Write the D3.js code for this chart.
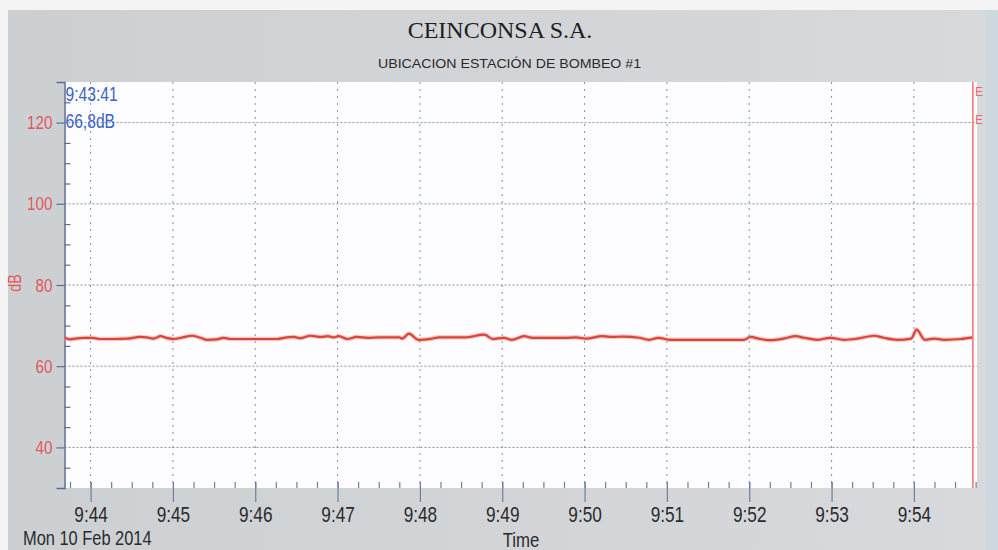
<!DOCTYPE html>
<html><head><meta charset="utf-8">
<script src="https://cdn.jsdelivr.net/npm/d3@7"></script>
<style>
html,body{margin:0;padding:0;background:#f3f3f3;}
svg{display:block;}
.narrow{font-family:"Liberation Sans Narrow","Arial Narrow","Liberation Sans",sans-serif;}
</style></head>
<body>
<svg id="chart" width="998" height="550"></svg>
<script>
// ---- data ----
const title = "CEINCONSA S.A.";
const subtitle = "UBICACION  ESTACIÓN DE BOMBEO #1";
const startTime = "2014-02-10T09:43:41";
const endTime = "2014-02-10T09:54:46";
const cursorTime = "2014-02-10T09:54:43";
const elapsedSec = [0,4,8,14,20,26,36,46,55,60,65,70,75,80,85,93,99,104,111,116,121,133,148,155,162,167,172,179,187,192,196,200,206,213,221,229,244,246,251,258,268,273,292,306,312,320,326,335,341,365,373,380,392,399,407,419,426,433,441,456,478,495,500,507,515,524,533,539,549,558,568,578,590,597,607,617,621,627,634,641,653,662];
const levelDb = [67.1,66.6,66.8,67.0,67.0,66.7,66.7,66.8,67.2,67.1,66.8,67.4,66.9,66.7,67.0,67.5,67.0,66.5,66.6,67.0,66.7,66.7,66.7,66.7,67.1,67.2,66.9,67.5,67.2,67.4,67.1,67.4,66.7,67.2,67.0,67.1,67.1,66.8,68.0,66.5,66.8,67.1,67.1,67.8,66.7,67.0,66.5,67.4,67.0,67.0,67.1,66.8,67.4,67.2,67.3,67.0,66.5,67.0,66.5,66.5,66.5,66.5,67.2,66.7,66.4,66.8,67.4,67.0,66.5,67.0,66.5,66.8,67.5,67.0,66.5,66.8,69.0,66.5,66.8,66.5,66.7,67.1];
const yMajorTicks = [40,60,80,100,120];
const yDomain = [30,130];
const cursorLabel1 = "9:43:41";
const cursorLabel2 = "66,8dB";
const dateLabel = "Mon 10 Feb 2014";
const xTitle = "Time";
const yTitle = "dB";

// ---- layout ----
const svg = d3.select("#chart");
const P = {left:64.5, right:977, top:82, bottom:488};
const t0 = new Date(startTime);
const data = elapsedSec.map((s,i)=>({t:new Date(t0.getTime()+s*1000), v:levelDb[i]}));

const x = d3.scaleTime().domain([new Date(startTime), new Date(endTime)]).range([P.left,P.right]);
const y = d3.scaleLinear().domain(yDomain).range([P.bottom,P.top]);

// background panel
const defs = svg.append("defs");
const g1 = defs.append("linearGradient").attr("id","bg").attr("x1","0").attr("x2","1").attr("y1","0").attr("y2","0");
g1.append("stop").attr("offset","0").attr("stop-color","#cdd0d3");
g1.append("stop").attr("offset","1").attr("stop-color","#d7d9dc");
svg.append("rect").attr("x",0).attr("y",0).attr("width",998).attr("height",550).attr("fill","#f4f4f4");
svg.append("rect").attr("x",8).attr("y",10).attr("width",990).attr("height",540).attr("fill","url(#bg)");
svg.append("rect").attr("x",986).attr("y",10).attr("width",12).attr("height",540).attr("fill","#cdd8df");

// plot area
svg.append("rect").attr("x",P.left).attr("y",P.top).attr("width",P.right-P.left).attr("height",P.bottom-P.top).attr("fill","#fdfdff");

// grid
const gridColor = "#7486a8";
svg.append("g").selectAll("line").data(yMajorTicks).join("line")
  .attr("x1",P.left).attr("x2",P.right).attr("y1",d=>y(d)).attr("y2",d=>y(d))
  .attr("stroke",gridColor).attr("stroke-width",1).attr("stroke-dasharray","2,2").attr("opacity",0.9);
const minuteTicks = x.ticks(d3.timeMinute.every(1));
svg.append("g").selectAll("line").data(minuteTicks).join("line")
  .attr("x1",d=>x(d)).attr("x2",d=>x(d)).attr("y1",P.top).attr("y2",P.bottom)
  .attr("stroke",gridColor).attr("stroke-width",1).attr("stroke-dasharray","2,5").attr("opacity",0.9);

// x axis minor ticks (inward)
const xMinor = d3.axisBottom(x).ticks(d3.timeSecond.every(15)).tickSize(-6).tickFormat("");
const gxm = svg.append("g").attr("transform",`translate(0,${P.bottom})`).call(xMinor);
gxm.select(".domain").remove();
gxm.selectAll("line").attr("stroke","#6f7f98").attr("stroke-width",1.2);

// x axis major
const xMajor = d3.axisBottom(x).ticks(d3.timeMinute.every(1)).tickSize(14).tickPadding(20).tickFormat(d3.timeFormat("%-H:%M"));
const gx = svg.append("g").attr("transform",`translate(0,${P.bottom})`).call(xMajor);
gx.select(".domain").remove();
gx.selectAll("line").attr("y1",-6).attr("stroke","#6f7f98").attr("stroke-width",1.2);
gx.selectAll("text").attr("class","narrow").attr("font-size",21.5).attr("fill","#2b2b2b").attr("dy","0").attr("y",34);

// y axis
const yMinorTicks = d3.range(yDomain[0]+5, yDomain[1], 5).filter(v=>!yMajorTicks.includes(v));
const gym = svg.append("g").attr("transform",`translate(${P.left},0)`).call(d3.axisRight(y).tickValues(yMinorTicks).tickSize(6).tickFormat(""));
gym.select(".domain").remove();
gym.selectAll("line").attr("stroke","#5a6f92").attr("stroke-width",1.2);
const gy = svg.append("g").attr("transform",`translate(${P.left},0)`).call(d3.axisLeft(y).tickValues(yMajorTicks).tickSize(8).tickPadding(4));
gy.select(".domain").attr("stroke","#5a6f92").attr("stroke-width",1.5);
gy.selectAll("line").attr("stroke","#5a6f92").attr("stroke-width",1.2);
gy.selectAll("text").attr("class","narrow").attr("font-size",19).attr("fill","#e0585a");

// data line
const line = d3.line().x(d=>x(d.t)).y(d=>y(d.v)).curve(d3.curveMonotoneX);
svg.append("path").datum(data).attr("d",line).attr("fill","none").attr("stroke","#f2a49a").attr("stroke-width",4.5).attr("opacity",0.6);
svg.append("path").datum(data).attr("d",line).attr("fill","none").attr("stroke","#d9453a").attr("stroke-width",2.2);

// cursor
const cx = x(new Date(cursorTime));
svg.append("line").attr("x1",cx).attr("x2",cx).attr("y1",P.top).attr("y2",P.bottom).attr("stroke","#ee7a78").attr("stroke-width",1.6);
svg.append("text").attr("x",cx+2).attr("y",96).attr("font-family","Liberation Sans, sans-serif").attr("font-size",12).attr("fill","#e86a6a").text("E");
svg.append("text").attr("x",cx+2).attr("y",124).attr("font-family","Liberation Sans, sans-serif").attr("font-size",12).attr("fill","#e86a6a").text("E");

// cursor readout
svg.append("text").attr("class","narrow").attr("x",P.left+1).attr("y",101).attr("font-size",19.5).attr("fill","#3c62c4").text(cursorLabel1);
svg.append("text").attr("class","narrow").attr("x",P.left+1).attr("y",128).attr("font-size",19.5).attr("fill","#3c62c4").text(cursorLabel2);

// titles
svg.append("text").attr("x",500).attr("y",38).attr("text-anchor","middle").attr("font-family","Liberation Serif, Times New Roman, serif").attr("font-size",24).attr("fill","#1e1e1e").text(title);
svg.append("text").attr("class","narrow").attr("x",378).attr("y",68).attr("font-size",12.5).attr("fill","#2a2a2a").text(subtitle);
svg.append("text").attr("class","narrow").attr("x",521).attr("y",547).attr("text-anchor","middle").attr("font-size",21).attr("fill","#2b2b2b").text(xTitle);
svg.append("text").attr("class","narrow").attr("x",23).attr("y",545).attr("font-size",20.5).attr("fill","#2b2b2b").text(dateLabel);
svg.append("text").attr("class","narrow").attr("transform","translate(21,283) rotate(-90)").attr("text-anchor","middle").attr("font-size",18).attr("fill","#e0585a").text(yTitle);

// emulate a narrow face: compress each narrow label horizontally
svg.selectAll("text.narrow").each(function(){
  const w = this.getComputedTextLength();
  d3.select(this).attr("textLength", (w*0.8).toFixed(1)).attr("lengthAdjust","spacingAndGlyphs");
});
// subtitle width fixed to the reference span
svg.selectAll("text.narrow").filter(function(){return this.textContent===subtitle;}).attr("textLength",263);
</script>
</body></html>
